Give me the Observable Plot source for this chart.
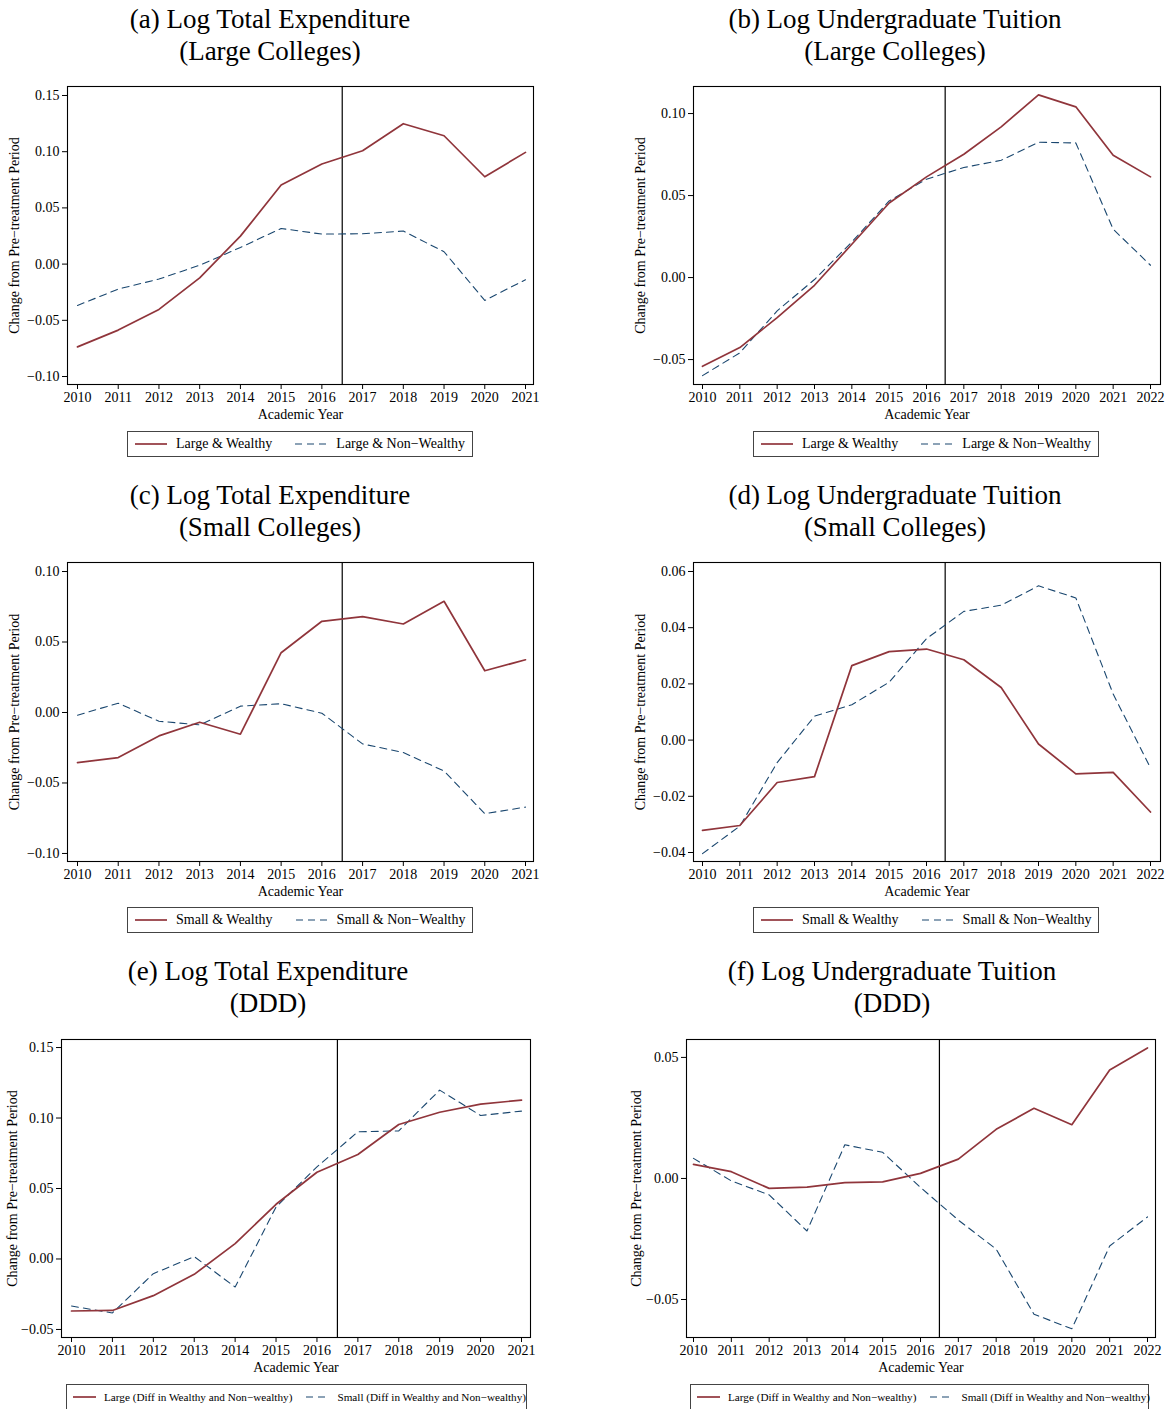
<!DOCTYPE html>
<html><head><meta charset="utf-8">
<script src="https://cdn.jsdelivr.net/npm/d3@7"></script>
<script src="https://cdn.jsdelivr.net/npm/@observablehq/plot@0.6"></script>
<style>
body{margin:0;background:#fff;}
#root{position:relative;width:1169px;height:1409px;background:#fff;font-family:'Liberation Serif','Times New Roman',serif;overflow:hidden;}
.title{position:absolute;width:600px;text-align:center;font-size:27px;line-height:32px;color:#000;}
.legend{position:absolute;border:1px solid #444;display:flex;align-items:center;box-sizing:border-box;white-space:nowrap;color:#000;background:#fff;}
.legend svg{display:block;flex:none;}
.plot{position:absolute;}
</style></head><body><div id="root"></div><script>
// ---- data ----
const years2021 = [2010, 2011, 2012, 2013, 2014, 2015, 2016, 2017, 2018, 2019, 2020, 2021];
const years2022 = [2010, 2011, 2012, 2013, 2014, 2015, 2016, 2017, 2018, 2019, 2020, 2021, 2022];
const treatmentCutoff = 2016.5;

// (a) Log Total Expenditure, Large Colleges
const aLargeWealthy    = [-0.0736, -0.0587, -0.0403, -0.0122, 0.0249, 0.0703, 0.0890, 0.1008, 0.1249, 0.1142, 0.0777, 0.0994];
const aLargeNonWealthy = [-0.0368, -0.0222, -0.0133, -0.0010, 0.0148, 0.0317, 0.0267, 0.0270, 0.0294, 0.0110, -0.0323, -0.0139];
// (b) Log Undergraduate Tuition, Large Colleges
const bLargeWealthy    = [-0.0541, -0.0427, -0.0244, -0.0047, 0.0203, 0.0455, 0.0614, 0.0752, 0.0919, 0.1114, 0.1041, 0.0746, 0.0614];
const bLargeNonWealthy = [-0.0598, -0.0459, -0.0203, -0.0012, 0.0217, 0.0467, 0.0600, 0.0671, 0.0715, 0.0825, 0.0821, 0.0295, 0.0075];
// (c) Log Total Expenditure, Small Colleges
const cSmallWealthy    = [-0.0355, -0.0320, -0.0166, -0.0069, -0.0154, 0.0424, 0.0647, 0.0680, 0.0628, 0.0789, 0.0296, 0.0374];
const cSmallNonWealthy = [-0.0019, 0.0066, -0.0062, -0.0088, 0.0045, 0.0062, -0.0005, -0.0223, -0.0284, -0.0415, -0.0718, -0.0671];
// (d) Log Undergraduate Tuition, Small Colleges
const dSmallWealthy    = [-0.0321, -0.0304, -0.0151, -0.0130, 0.0265, 0.0315, 0.0324, 0.0286, 0.0187, -0.0014, -0.0120, -0.0115, -0.0256];
const dSmallNonWealthy = [-0.0404, -0.0306, -0.0080, 0.0085, 0.0126, 0.0206, 0.0361, 0.0458, 0.0480, 0.0549, 0.0506, 0.0164, -0.0099];
// (e) Log Total Expenditure, DDD
const eLargeDiff = [-0.0369, -0.0365, -0.0260, -0.0109, 0.0109, 0.0388, 0.0615, 0.0741, 0.0954, 0.1041, 0.1098, 0.1127];
const eSmallDiff = [-0.0334, -0.0383, -0.0104, 0.0017, -0.0199, 0.0369, 0.0653, 0.0902, 0.0909, 0.1198, 0.1018, 0.1049];
// (f) Log Undergraduate Tuition, DDD
const fLargeDiff = [0.0058, 0.0028, -0.0041, -0.0036, -0.0017, -0.0014, 0.0021, 0.0080, 0.0203, 0.0290, 0.0222, 0.0448, 0.0539];
const fSmallDiff = [0.0083, -0.0010, -0.0068, -0.0217, 0.0139, 0.0108, -0.0037, -0.0172, -0.0292, -0.0561, -0.0621, -0.0279, -0.0159];

// tick labels
const yTicksA = [-0.10, -0.05, 0.00, 0.05, 0.10, 0.15];
const yTicksB = [-0.05, 0.00, 0.05, 0.10];
const yTicksC = [-0.10, -0.05, 0.00, 0.05, 0.10];
const yTicksD = [-0.04, -0.02, 0.00, 0.02, 0.04, 0.06];
const yTicksE = [-0.05, 0.00, 0.05, 0.10, 0.15];
const yTicksF = [-0.05, 0.00, 0.05];

const titlesA = ["(a) Log Total Expenditure", "(Large Colleges)"];
const titlesB = ["(b) Log Undergraduate Tuition", "(Large Colleges)"];
const titlesC = ["(c) Log Total Expenditure", "(Small Colleges)"];
const titlesD = ["(d) Log Undergraduate Tuition", "(Small Colleges)"];
const titlesE = ["(e) Log Total Expenditure", "(DDD)"];
const titlesF = ["(f) Log Undergraduate Tuition", "(DDD)"];

const legendLarge = ["Large & Wealthy", "Large & Non\u2212Wealthy"];
const legendSmall = ["Small & Wealthy", "Small & Non\u2212Wealthy"];
const legendDDD = ["Large (Diff in Wealthy and Non\u2212wealthy)", "Small (Diff in Wealthy and Non\u2212wealthy)"];

const yLabel = "Change from Pre\u2212treatment Period";
const xLabel = "Academic Year";

// ---- styles ----
const RED = "#90353B";
const BLUE = "#1A476F";
const FONT = "'Liberation Serif','Times New Roman',serif";

const panels = [
  {years: years2021, s1: aLargeWealthy, s2: aLargeNonWealthy, ticks: yTicksA, yDomain: [-0.1071, 0.158], titles: titlesA, legend: legendLarge,
   left: 0, top: 70, width: 545, height: 360, mL: 67, mR: 12, mT: 16, mB: 46, iL: 10, iR: 8, yDx: -53,
   titleC: 270, titleTop: 3, lg: {left: 127, top: 431, width: 346, height: 26, fs: 14, sw: 32, pad: 7, g1: 9, g2: 23}},
  {years: years2022, s1: bLargeWealthy, s2: bLargeNonWealthy, ticks: yTicksB, yDomain: [-0.0652, 0.1165], titles: titlesB, legend: legendLarge,
   left: 625, top: 70, width: 544, height: 360, mL: 68, mR: 9, mT: 16, mB: 46, iL: 9, iR: 10, yDx: -53,
   titleC: 895, titleTop: 3, lg: {left: 753, top: 431, width: 346, height: 26, fs: 14, sw: 32, pad: 7, g1: 9, g2: 23}},
  {years: years2021, s1: cSmallWealthy, s2: cSmallNonWealthy, ticks: yTicksC, yDomain: [-0.1057, 0.1064], titles: titlesC, legend: legendSmall,
   left: 0, top: 546, width: 545, height: 361, mL: 67, mR: 12, mT: 16, mB: 46, iL: 10, iR: 8, yDx: -53,
   titleC: 270, titleTop: 479, lg: {left: 127, top: 907, width: 346, height: 26, fs: 14, sw: 32, pad: 7, g1: 9, g2: 23}},
  {years: years2022, s1: dSmallWealthy, s2: dSmallNonWealthy, ticks: yTicksD, yDomain: [-0.0432, 0.0632], titles: titlesD, legend: legendSmall,
   left: 625, top: 546, width: 544, height: 361, mL: 68, mR: 9, mT: 16, mB: 46, iL: 9, iR: 10, yDx: -53,
   titleC: 895, titleTop: 479, lg: {left: 753, top: 907, width: 346, height: 26, fs: 14, sw: 32, pad: 7, g1: 9, g2: 23}},
  {years: years2021, s1: eLargeDiff, s2: eSmallDiff, ticks: yTicksE, yDomain: [-0.0557, 0.1557], titles: titlesE, legend: legendDDD,
   left: 0, top: 1023, width: 545, height: 360, mL: 61, mR: 15, mT: 16, mB: 46, iL: 10, iR: 9, yDx: -49,
   titleC: 268, titleTop: 955, lg: {left: 66, top: 1384, width: 461, height: 26, fs: 11.2, sw: 23, pad: 6, g1: 8, g2: 14}},
  {years: years2022, s1: fLargeDiff, s2: fSmallDiff, ticks: yTicksF, yDomain: [-0.0657, 0.0574], titles: titlesF, legend: legendDDD,
   left: 625, top: 1023, width: 544, height: 360, mL: 61, mR: 14, mT: 16, mB: 46, iL: 7, iR: 8, yDx: -50,
   titleC: 892, titleTop: 955, lg: {left: 690, top: 1384, width: 459, height: 26, fs: 11.2, sw: 23, pad: 6, g1: 8, g2: 14}}
];

const root = document.getElementById("root");

function sampleSvg(w, color, dash, sw) {
  const ns = "http://www.w3.org/2000/svg";
  const svg = document.createElementNS(ns, "svg");
  svg.setAttribute("width", w); svg.setAttribute("height", 10);
  const ln = document.createElementNS(ns, "line");
  ln.setAttribute("x1", 0); ln.setAttribute("x2", w); ln.setAttribute("y1", 5); ln.setAttribute("y2", 5);
  ln.setAttribute("stroke", color); ln.setAttribute("stroke-width", sw);
  if (dash) ln.setAttribute("stroke-dasharray", dash);
  svg.appendChild(ln);
  return svg;
}

for (const p of panels) {
  // title
  const t = document.createElement("div");
  t.className = "title";
  t.style.left = (p.titleC - 300) + "px";
  t.style.top = p.titleTop + "px";
  t.innerHTML = p.titles.map(s => `<div>${s.replace(/&/g, "&amp;")}</div>`).join("");
  root.appendChild(t);

  const d1 = p.years.map((y, i) => ({year: y, value: p.s1[i]}));
  const d2 = p.years.map((y, i) => ({year: y, value: p.s2[i]}));

  const chart = Plot.plot({
    width: p.width, height: p.height,
    marginLeft: p.mL, marginRight: p.mR, marginTop: p.mT, marginBottom: p.mB,
    style: {fontFamily: FONT, fontSize: "14px", background: "transparent", color: "#000", overflow: "visible"},
    x: {domain: [p.years[0], p.years[p.years.length - 1]], insetLeft: p.iL, insetRight: p.iR},
    y: {domain: p.yDomain},
    marks: [
      Plot.axisX({ticks: p.years, tickFormat: d => String(d), tickSize: 5, tickPadding: 3, label: null, fontSize: 14}),
      Plot.axisY({ticks: p.ticks, tickFormat: d3.format(".2f"), tickSize: 5, tickPadding: 3, label: null, fontSize: 14}),
      Plot.ruleX([treatmentCutoff], {stroke: "#000", strokeWidth: 1.2}),
      Plot.lineY(d2, {x: "year", y: "value", stroke: BLUE, strokeWidth: 1.1, strokeDasharray: "7,5"}),
      Plot.lineY(d1, {x: "year", y: "value", stroke: RED, strokeWidth: 1.7}),
      Plot.frame({stroke: "#000", strokeWidth: 1.1}),
      Plot.text([yLabel], {text: d => d, frameAnchor: "left", rotate: -90, dx: p.yDx, textAnchor: "middle", lineAnchor: "middle", fontSize: 14}),
      Plot.text([xLabel], {text: d => d, frameAnchor: "bottom", dy: 30, textAnchor: "middle", lineAnchor: "middle", fontSize: 14})
    ]
  });
  chart.classList.add("plot");
  chart.style.left = p.left + "px";
  chart.style.top = p.top + "px";
  root.appendChild(chart);

  // legend
  const lg = document.createElement("div");
  lg.className = "legend";
  Object.assign(lg.style, {left: p.lg.left + "px", top: p.lg.top + "px", width: p.lg.width + "px", height: p.lg.height + "px",
    fontSize: p.lg.fs + "px", paddingLeft: p.lg.pad + "px"});
  const s1 = sampleSvg(p.lg.sw, RED, null, 1.7);
  const l1 = document.createElement("span"); l1.textContent = p.legend[0];
  l1.style.marginLeft = p.lg.g1 + "px";
  const s2 = sampleSvg(p.lg.sw, BLUE, "7,5", 1.1);
  s2.style.marginLeft = p.lg.g2 + "px";
  const l2 = document.createElement("span"); l2.textContent = p.legend[1];
  l2.style.marginLeft = p.lg.g1 + "px";
  lg.append(s1, l1, s2, l2);
  root.appendChild(lg);
}
</script></body></html>
